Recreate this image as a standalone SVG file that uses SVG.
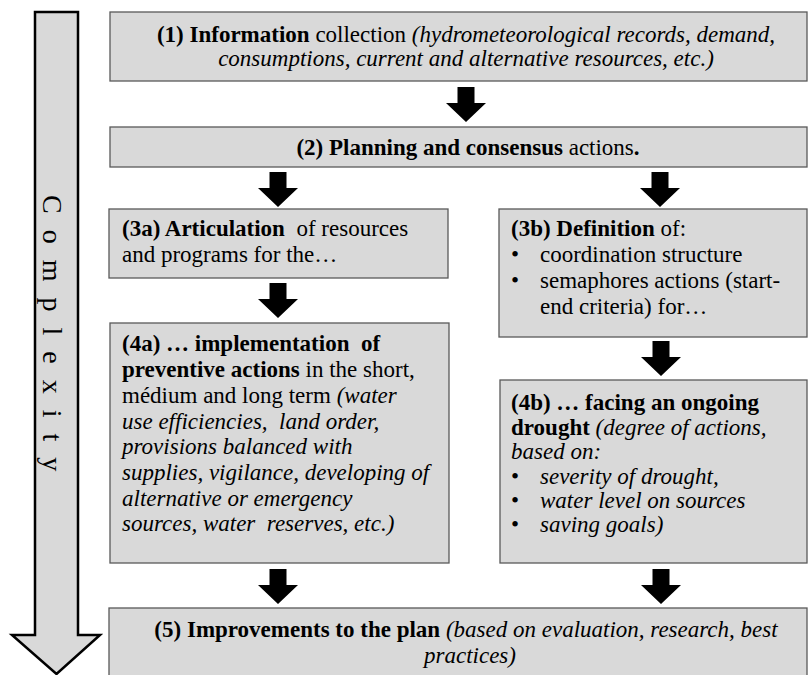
<svg xmlns="http://www.w3.org/2000/svg" xmlns:xlink="http://www.w3.org/1999/xlink" width="811" height="675" viewBox="0 0 811 675">
<style>
.box{fill:#d9d9d9;stroke:#595959;stroke-width:1.3}
.t{font-family:'Liberation Serif','Times New Roman',Times,serif;font-size:23px;fill:#000;white-space:pre}
.c{text-anchor:middle}
.b{font-weight:bold}
.i{font-style:italic}
.arr{fill:#000}
.vert{font-size:28px;letter-spacing:16px}
</style>
<defs>
<path id="blk" d="M-8.5,0 H8.5 V16 H20 L0,35 L-20,16 H-8.5 Z"/>
</defs>
<g id="complexity">
<polygon points="35,12 78,12 78,635 100,635 56.5,674 12,635 35,635" fill="#d9d9d9" stroke="#000" stroke-width="2.5"/>
<text class="t vert" transform="translate(43,195) rotate(90)">Complexity</text>
</g>
<g id="n1">
<rect class="box" x="110" y="12" width="697" height="69"/>
<text class="t c" x="466" y="42"><tspan class="b">(1) Information</tspan> collection <tspan class="i">(hydrometeorological records, demand,</tspan></text>
<text class="t c i" x="466" y="66">consumptions, current and alternative resources, etc.)</text>
</g>
<g id="n2">
<rect class="box" x="110" y="127" width="697" height="40"/>
<text class="t c" x="468" y="155"><tspan class="b">(2) Planning and consensus</tspan> actions<tspan class="b">.</tspan></text>
</g>
<g id="n3a">
<rect class="box" x="109" y="209" width="339" height="69"/>
<text class="t" x="122" y="236" xml:space="preserve"><tspan class="b">(3a) Articulation</tspan>  of resources</text>
<text class="t" x="122" y="262">and programs for the…</text>
</g>
<g id="n3b">
<rect class="box" x="499" y="209" width="308" height="128"/>
<text class="t" x="511" y="236"><tspan class="b">(3b) Definition</tspan> of:</text>
<text class="t" x="511" y="262">•</text>
<text class="t" x="540" y="262">coordination structure</text>
<text class="t" x="511" y="288">•</text>
<text class="t" x="540" y="288">semaphores actions (start-</text>
<text class="t" x="540" y="314">end criteria) for…</text>
</g>
<g id="n4a">
<rect class="box" x="110" y="323" width="339" height="240"/>
<text class="t b" x="122" y="351" xml:space="preserve">(4a) … implementation  of</text>
<text class="t" x="122" y="377"><tspan class="b">preventive actions</tspan> in the short,</text>
<text class="t" x="122" y="403">médium and long term <tspan class="i">(water</tspan></text>
<text class="t i" x="122" y="429" xml:space="preserve">use efficiencies,  land order,</text>
<text class="t i" x="122" y="454">provisions balanced with</text>
<text class="t i" x="122" y="480">supplies, vigilance, developing of</text>
<text class="t i" x="122" y="506">alternative or emergency</text>
<text class="t i" x="122" y="531" xml:space="preserve">sources, water  reserves, etc.)</text>
</g>
<g id="n4b">
<rect class="box" x="500" y="380" width="307" height="183"/>
<text class="t b" x="511" y="410">(4b) … facing an ongoing</text>
<text class="t" x="511" y="435"><tspan class="b">drought</tspan> <tspan class="i">(degree of actions,</tspan></text>
<text class="t i" x="511" y="459">based on:</text>
<text class="t" x="511" y="484">•</text>
<text class="t i" x="540" y="484">severity of drought,</text>
<text class="t" x="511" y="508">•</text>
<text class="t i" x="540" y="508">water level on sources</text>
<text class="t" x="511" y="532">•</text>
<text class="t i" x="540" y="532">saving goals)</text>
</g>
<g id="n5">
<rect class="box" x="109" y="608" width="698" height="80"/>
<text class="t c" x="466" y="637"><tspan class="b">(5) Improvements to the plan</tspan> <tspan class="i">(based on evaluation, research, best</tspan></text>
<text class="t c i" x="470" y="663">practices)</text>
</g>
<g id="connectors" class="arr">
<use xlink:href="#blk" x="466" y="87"/>
<use xlink:href="#blk" x="278" y="172"/>
<use xlink:href="#blk" x="660" y="172"/>
<use xlink:href="#blk" x="278" y="283"/>
<use xlink:href="#blk" x="661" y="341"/>
<use xlink:href="#blk" x="278" y="569"/>
<use xlink:href="#blk" x="661" y="569"/>
</g>
</svg>
